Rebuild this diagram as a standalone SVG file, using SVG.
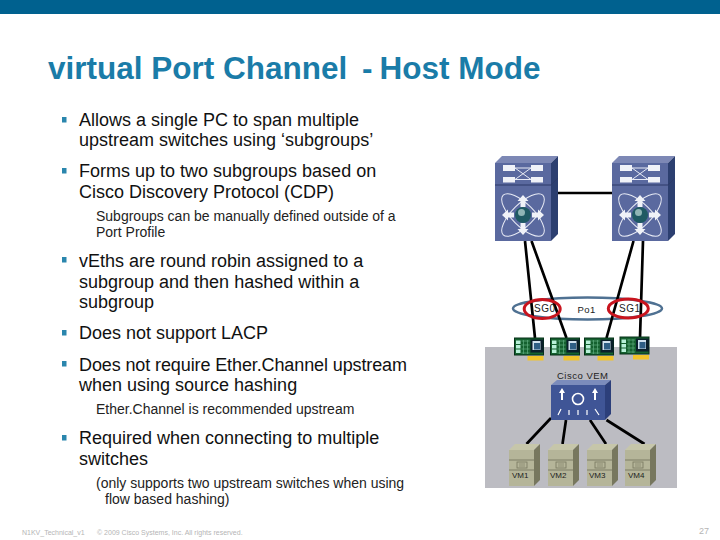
<svg xmlns="http://www.w3.org/2000/svg" xmlns:xlink="http://www.w3.org/1999/xlink" width="720" height="540" viewBox="0 0 720 540">
<style>
text{font-family:"Liberation Sans",Arial,sans-serif;fill:#111}
.t{font-size:31.5px;font-weight:bold;fill:#1a7ca8}
.b{font-size:18px}
.s{font-size:14px;fill:#222}
.f{font-size:7px;fill:#b5b5b5}
.l{font-size:10px;fill:#222;letter-spacing:.5px}
.m{font-size:8px;fill:#222}
.bu{fill:#2a86ad}
.c{stroke:#000;stroke-width:2.7;fill:none}
.w{stroke:#e8ebf5;fill:none;stroke-width:1}
.wf{fill:#f0f2f8}
</style>
<defs>
<g id="sw">
<path d="M0 0L7 -7L63 -7L56 0Z" fill="#7d88b5"/>
<path d="M56 0L63 -7L63 71L56 78Z" fill="#2c3f70"/>
<rect x="0" y="0" width="56" height="78" fill="#5a699f"/>
<path d="M0 22H56L63 15" stroke="#2c3a68" stroke-width="1" fill="none"/>
<rect x="8" y="2" width="12" height="6" class="wf"/><rect x="36" y="2" width="12" height="6" class="wf"/>
<rect x="8" y="14" width="12" height="5.500" class="wf"/><rect x="36" y="14" width="12" height="5.500" class="wf"/>
<path d="M20 5H36M20 16.500H36M20 5L36 16.500M20 16.500L36 5" class="w"/>
<ellipse cx="28" cy="52" rx="28" ry="11" class="w" transform="rotate(45 28 52)"/>
<ellipse cx="28" cy="52" rx="28" ry="11" class="w" transform="rotate(-45 28 52)"/>
<path d="M28 32l5.500 6h-3v6h-5v-6h-3zM28 72l5.500 -6h-3v-6h-5v6h-3zM7 52l6 -5.500v3h6v5h-6v3zM49 52l-6 -5.500v3h-6v5h6v3z" class="wf"/>
<circle cx="28" cy="52" r="8" fill="#1f5a63"/><circle cx="26.500" cy="49.500" r="3.500" fill="#8fb5b5"/>
</g>
<g id="nic">
<rect x="0" y="0" width="29" height="17" fill="#15612f" stroke="#063018" stroke-width="1"/>
<rect x="1.500" y="2.500" width="4.500" height="3.500" fill="#b8f0d8"/><rect x="1.500" y="7" width="4.500" height="3.500" fill="#b8f0d8"/><rect x="1.500" y="11.500" width="4.500" height="3.500" fill="#b8f0d8"/>
<path d="M7 3h8M7 7h8M7 11h8M7 15h8M9 2v14M13 2v14" stroke="#5fae7f" stroke-width=".7"/>
<rect x="16" y="1.500" width="13" height="13" fill="#0a1f2a"/><rect x="18" y="3" width="8" height="9" fill="#cfe0ee"/><rect x="19.500" y="5" width="6" height="6.500" fill="#2f5f86"/>
<rect x="13" y="18" width="16" height="4.500" fill="#f2c32b"/>
</g>
<g id="vm">
<path d="M0 6L6 0H31L25 6Z" fill="#c6c6aa"/>
<path d="M25 6L31 0V36L25 42Z" fill="#77775e"/>
<rect x="0" y="6" width="25" height="36" fill="#b5b599"/>
<path d="M0 16H25M0 26H25" stroke="#6f6f58" stroke-width=".8"/>
<rect x="8" y="18" width="10" height="6" fill="none" stroke="#77775e" stroke-width=".8"/>
<path d="M10 20H16M10 22H16" stroke="#77775e" stroke-width=".6"/>
</g>
</defs>
<rect width="720" height="540" fill="#fff"/>
<rect width="720" height="14" fill="#00618f"/>
<text class="t" x="48" y="79">virtual Port Channel</text>
<text class="t" x="362" y="79">-</text>
<text class="t" x="379.500" y="79">Host Mode</text>
<g id="text">
<rect class="bu" x="62" y="117" width="4.500" height="5.500"/>
<text class="b" x="79" y="126">Allows a single PC to span multiple</text>
<text class="b" x="79" y="146">upstream switches using ‘subgroups’</text>
<rect class="bu" x="62" y="168" width="4.500" height="5.500"/>
<text class="b" x="79" y="177">Forms up to two subgroups based on</text>
<text class="b" x="79" y="198">Cisco Discovery Protocol (CDP)</text>
<text class="s" x="96" y="221">Subgroups can be manually defined outside of a</text>
<text class="s" x="96" y="237">Port Profile</text>
<rect class="bu" x="62" y="257" width="4.500" height="5.500"/>
<text class="b" x="79" y="267">vEths are round robin assigned to a</text>
<text class="b" x="79" y="288">subgroup and then hashed within a</text>
<text class="b" x="79" y="308">subgroup</text>
<rect class="bu" x="62" y="330" width="4.500" height="5.500"/>
<text class="b" x="79" y="339">Does not support LACP</text>
<rect class="bu" x="62" y="361" width="4.500" height="5.500"/>
<text class="b" x="79" y="371" textLength="328">Does not require Ether.Channel upstream</text>
<text class="b" x="79" y="391">when using source hashing</text>
<text class="s" x="96" y="414">Ether.Channel is recommended upstream</text>
<rect class="bu" x="62" y="435" width="4.500" height="5.500"/>
<text class="b" x="79" y="444">Required when connecting to multiple</text>
<text class="b" x="79" y="465">switches</text>
<text class="s" x="96" y="488">(only supports two upstream switches when using</text>
<text class="s" x="105" y="504">flow based hashing)</text>
</g>
<text class="f" x="22" y="535">N1KV_Technical_v1</text>
<text class="f" x="97" y="535">© 2009 Cisco Systems, Inc. All rights reserved.</text>
<text x="699" y="534" style="font-size:9px;fill:#b5b5b5">27</text>
<rect id="panel" x="485" y="347" width="192" height="141" fill="#bcbcc2"/>
<g id="Po1"><ellipse cx="587.500" cy="308.500" rx="74.500" ry="11" fill="#fff" stroke="#4f7192" stroke-width="2.500"/></g>
<g id="connectors">
<path class="c" d="M552 193H612"/>
<path class="c" d="M525 241L535 338M531.500 241L566.500 338M633.500 241L606.500 338M643 241L640 338"/>
<path class="c" d="M551 418L526.500 444M566 420L562.500 444M590 420L606 444M606.500 420L644.500 444"/>
</g>
<g id="SG0"><ellipse cx="542.200" cy="309" rx="18" ry="9.500" fill="none" stroke="#c8141e" stroke-width="3"/><text class="l" x="534" y="312">SG0</text></g>
<g id="SG1"><ellipse cx="628.300" cy="308.500" rx="20" ry="9.500" fill="none" stroke="#c8141e" stroke-width="3"/><text class="l" x="619" y="312">SG1</text></g>
<text class="l" x="577.500" y="312.500" style="font-size:9.500px">Po1</text>
<g id="switch1"><use href="#sw" x="495" y="163"/></g>
<g id="switch2"><use href="#sw" x="612" y="163"/></g>
<g id="nic1"><use href="#nic" x="514.500" y="338"/></g>
<g id="nic2"><use href="#nic" x="550.500" y="338"/></g>
<g id="nic3"><use href="#nic" x="584.500" y="338"/></g>
<g id="nic4"><use href="#nic" x="620" y="337"/></g>
<text class="l" x="557" y="378.500" style="font-size:9.500px">Cisco VEM</text>
<g id="vem">
<path d="M551 385L557 380H611L605 385Z" fill="#7b8cbc"/>
<path d="M605 385L611 380V414L605 420Z" fill="#2c3f7a"/>
<rect x="551" y="385" width="54" height="35" fill="#3f5596"/>
<circle cx="578" cy="399" r="5.500" fill="none" stroke="#fff" stroke-width="1.600"/>
<path d="M562 388l3 5h-2v7h-2v-7h-2zM595 388l3 5h-2v7h-2v-7h-2z" fill="#fff"/>
<path d="M561 409l-3 6M569 410v5M578 410v5M587 410v5M595 409l4 6" stroke="#fff" stroke-width="1.200"/>
</g>
<g id="vm1"><use href="#vm" x="509" y="444"/><text class="m" x="512" y="478">VM1</text></g>
<g id="vm2"><use href="#vm" x="548" y="444"/><text class="m" x="550" y="478">VM2</text></g>
<g id="vm3"><use href="#vm" x="587" y="444"/><text class="m" x="589" y="478">VM3</text></g>
<g id="vm4"><use href="#vm" x="625" y="444"/><text class="m" x="628" y="478">VM4</text></g>
</svg>
